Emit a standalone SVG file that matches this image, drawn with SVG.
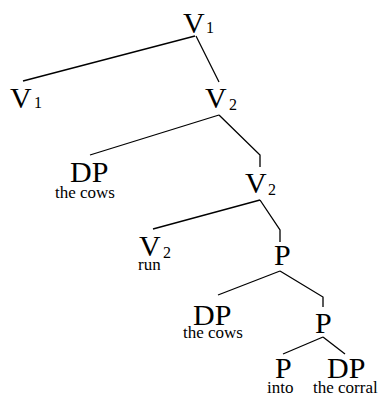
<svg xmlns="http://www.w3.org/2000/svg" width="380" height="396" viewBox="0 0 380 396">
<style>
text{font-family:"Liberation Serif","Times New Roman",serif;fill:#000}
.b{font-size:30px}
.s{font-size:16px}
.w{font-size:17px}
.e{fill:none;stroke:#000;stroke-width:1.3}
</style>
<rect width="380" height="396" fill="#fff"/>
<g id="connectors">
<polyline class="e" points="195,36 23,81"/>
<polyline class="e" points="196,36 219,82"/>
<polyline class="e" points="219,115 90,155"/>
<polyline class="e" points="219,115 260,155 260,167"/>
<polyline class="e" points="260,200 153,229"/>
<polyline class="e" points="260,200 280,230 280,242"/>
<polyline class="e" points="280,271 218,295"/>
<polyline class="e" points="280,271 323,297 323,307"/>
<polyline class="e" points="323,337 283,354"/>
<polyline class="e" points="323,337 345,354"/>
</g>
<g id="n1"><text class="b" x="183" y="33">V</text><text class="s" x="206" y="33">1</text></g>
<g id="n2"><text class="b" x="10" y="108">V</text><text class="s" x="34" y="108">1</text></g>
<g id="n3"><text class="b" x="205" y="108">V</text><text class="s" x="229" y="110">2</text></g>
<g id="n4"><text class="b" x="70" y="182">DP</text><text class="w" x="55" y="198">the cows</text></g>
<g id="n5"><text class="b" x="245" y="193">V</text><text class="s" x="268" y="195">2</text></g>
<g id="n6"><text class="b" x="139" y="256">V</text><text class="s" x="163" y="258">2</text><text class="w" x="138" y="270">run</text></g>
<g id="n7"><text class="b" x="274" y="265">P</text></g>
<g id="n8"><text class="b" x="193" y="325">DP</text><text class="w" x="183" y="338">the cows</text></g>
<g id="n9"><text class="b" x="315" y="333">P</text></g>
<g id="n10"><text class="b" x="275" y="378">P</text><text class="w" x="267" y="393">into</text></g>
<g id="n11"><text class="b" x="327" y="378">DP</text><text class="w" x="313" y="393">the corral</text></g>
</svg>
